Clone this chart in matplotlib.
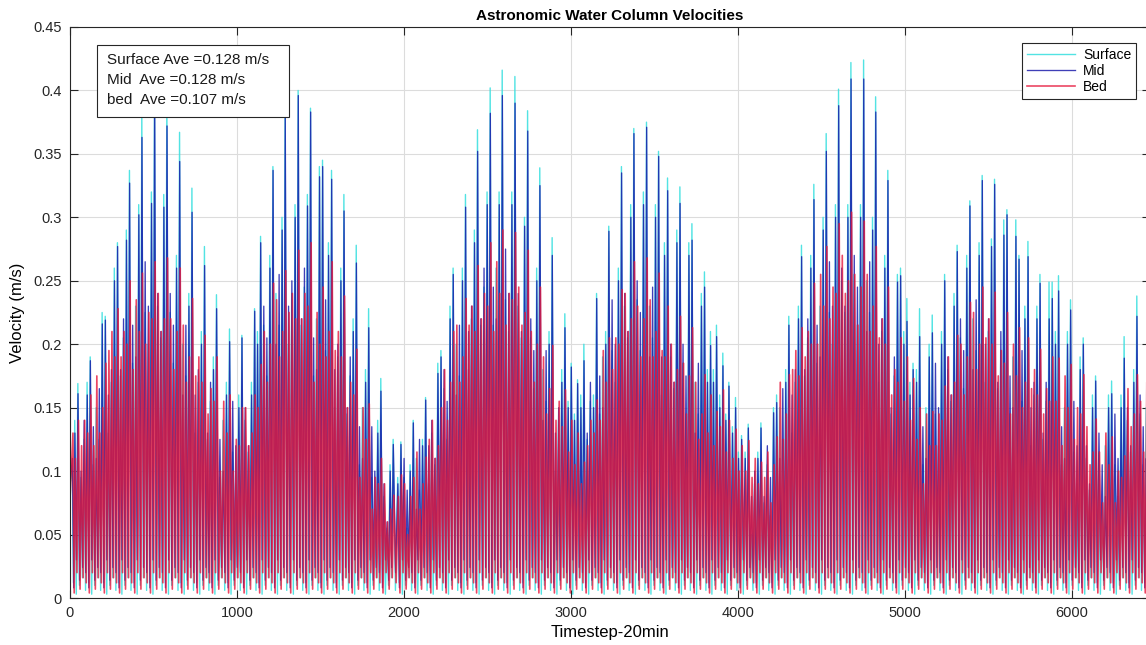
import numpy as np
import matplotlib.pyplot as plt
from matplotlib.patches import Rectangle

plt.rcParams['font.family'] = ['Liberation Sans', 'DejaVu Sans']

# timestep of the tallest spike of each tidal day
spike_t = [48, 122, 212, 285, 357, 431, 507, 581, 657, 731, 806, 878, 956, 1030, 1106, 1142, 1216, 1289,
           1367, 1441, 1513, 1567, 1641, 1715, 1789, 1862, 1936, 1982, 2056, 2130, 2222, 2295, 2369, 2441, 2517, 2589,
           2665, 2741, 2814, 2888, 2964, 3002, 3040, 3078, 3154, 3227, 3303, 3377, 3453, 3525, 3579, 3653, 3725, 3800, 3836, 3872,
           3910, 3946, 3986, 4022, 4062, 4138, 4232, 4305, 4381, 4455, 4529, 4603, 4677, 4753, 4825, 4898, 4974, 5012, 5049, 5088, 5164,
           5238, 5313, 5389, 5463, 5537, 5611, 5683, 5737, 5809, 5882, 5920, 5992, 6068, 6142, 6238, 6313, 6389]

# Surface
surf_peak = [.169, .19, .222, .28, .337, .382, .403, .396, .367, .323, .277, .239, .212, .207, .228, .285, .34, .382,
             .40, .386, .345, .337, .318, .278, .228, .173, .125, .123, .14, .158, .195, .26, .318, .369, .402, .416,
             .411, .384, .339, .284, .224, .185, .172, .2, .24, .293, .34, .37, .375, .352, .331, .324, .295, .257, .21, .215,
             .193, .17, .158, .128, .137, .138, .16, .222, .278, .326, .366, .401, .422, .424, .395, .337, .26, .236, .185, .228, .223,
             .255, .278, .313, .333, .33, .306, .27, .281, .255, .249, .254, .235, .205, .175, .171, .206, .238]
surf_pre = [.14, .17, .225, .26, .29, .31, .32, .318, .27, .24, .21, .19, .17, .16, .17, .21, .27, .3,
            .31, .318, .34, .28, .26, .22, .18, .14, .105, .095, .105, .125, .185, .23, .26, .29, .32, .32,
            .32, .3, .26, .21, .18, .155, .145, .16, .16, .21, .26, .31, .32, .31, .28, .29, .28, .24, .18, .18,
            .16, .145, .135, .115, .115, .115, .15, .18, .23, .27, .3, .31, .31, .31, .3, .27, .255, .21, .17, .18, .2,
            .21, .24, .27, .28, .283, .298, .298, .23, .23, .249, .21, .21, .19, .16, .16, .16, .18]
surf_body = [.10, .12, .14, .17, .20, .22, .24, .23, .22, .19, .17, .15, .13, .13, .14, .17, .21, .23,
             .24, .24, .21, .21, .19, .17, .14, .11, .08, .08, .09, .10, .13, .16, .19, .22, .24, .25,
             .25, .23, .20, .17, .14, .12, .11, .11, .15, .18, .21, .23, .23, .22, .20, .19, .18, .16, .13, .13,
             .12, .11, .10, .09, .09, .09, .10, .14, .17, .20, .22, .24, .25, .25, .24, .21, .17, .15, .13, .13, .14,
             .16, .18, .20, .21, .21, .19, .18, .17, .16, .15, .15, .14, .13, .11, .11, .12, .14]

# Mid
mid_peak = [.161, .187, .219, .277, .327, .363, .398, .372, .344, .304, .262, .228, .202, .205, .226, .28, .337, .379,
            .396, .383, .34, .33, .305, .264, .213, .163, .121, .121, .138, .156, .19, .255, .308, .352, .382, .396,
            .39, .368, .325, .27, .213, .182, .169, .187, .236, .289, .335, .366, .371, .348, .321, .311, .282, .245, .199, .206,
            .183, .167, .15, .125, .134, .134, .154, .215, .269, .314, .352, .388, .409, .409, .383, .329, .254, .218, .18, .206, .209,
            .25, .273, .309, .329, .326, .302, .267, .269, .248, .236, .242, .227, .2, .171, .161, .189, .222]
mid_pre = [.13, .16, .216, .25, .282, .302, .311, .308, .26, .23, .2, .18, .16, .15, .16, .2, .26, .29,
           .3, .309, .332, .27, .25, .21, .17, .13, .1, .09, .1, .12, .177, .22, .25, .28, .31, .31,
           .31, .293, .25, .2, .17, .15, .14, .15, .15, .2, .25, .3, .31, .3, .27, .28, .27, .23, .17, .17,
           .15, .14, .13, .11, .11, .11, .146, .17, .22, .26, .29, .3, .3, .3, .29, .26, .249, .2, .16, .17, .19,
           .2, .23, .26, .27, .277, .286, .285, .22, .22, .22, .2, .2, .18, .15, .15, .15, .17]
mid_body = [.11, .13, .15, .18, .21, .23, .25, .24, .23, .2, .18, .16, .14, .14, .15, .18, .22, .24,
            .25, .25, .22, .22, .2, .18, .15, .12, .09, .09, .1, .11, .14, .17, .2, .23, .25, .26,
            .26, .24, .21, .18, .15, .13, .12, .12, .16, .19, .22, .24, .24, .23, .21, .2, .19, .17, .14, .14,
            .13, .12, .11, .1, .1, .1, .11, .15, .18, .21, .23, .25, .26, .26, .25, .22, .18, .16, .14, .14, .15,
            .17, .19, .21, .22, .22, .2, .19, .18, .17, .16, .16, .15, .14, .12, .12, .13, .15]

# Bed
bed_peak = [.14, .16, .185, .228, .25, .256, .265, .268, .26, .236, .207, .19, .16, .15, .16, .184, .248, .258,
            .274, .28, .245, .265, .238, .196, .153, .11, .081, .097, .095, .111, .15, .21, .236, .262, .28, .29,
            .288, .274, .245, .199, .164, .14, .13, .107, .156, .205, .243, .265, .268, .256, .23, .222, .213, .176, .16, .147,
            .164, .14, .133, .12, .124, .107, .127, .176, .213, .248, .277, .295, .304, .297, .277, .245, .205, .19, .173, .15, .147,
            .167, .207, .233, .245, .241, .225, .213, .205, .196, .19, .189, .184, .176, .141, .127, .112, .176]
bed_body = [.11, .13, .15, .19, .2, .21, .22, .22, .21, .19, .17, .155, .13, .12, .13, .15, .2, .21,
            .22, .23, .2, .21, .19, .16, .125, .09, .07, .08, .08, .09, .12, .17, .19, .21, .23, .24,
            .235, .225, .2, .165, .135, .115, .105, .09, .13, .17, .2, .22, .22, .21, .19, .18, .175, .145, .13, .12,
            .135, .115, .11, .1, .1, .09, .105, .145, .175, .2, .23, .24, .25, .245, .23, .2, .17, .155, .14, .125, .12,
            .14, .17, .19, .2, .2, .185, .175, .17, .16, .155, .155, .15, .145, .115, .105, .095, .145]

# slack-water minima and the spread of the smaller (ebb) peaks
surf_trough = [0.006, 0.012, 0.003, 0.01, 0.016]
mid_trough = [0.02, 0.008, 0.03, 0.014, 0.024]
bed_trough = [0.012, 0.004, 0.02, 0.007, 0.016]
surf_dev = [0.0, -0.025, 0.005, -0.035, 0.01, -0.015, -0.04]
mid_dev = [0.0, -0.03, 0.01, -0.015, -0.04, 0.015, -0.02]
bed_dev = [0.02, -0.01, 0.01, -0.03, 0.025, -0.02, 0.005]

start_vals = {"Surface": 0.09, "Mid": 0.092, "Bed": 0.078}
end_t = 6470
half = 18.63  # half of an M2 cycle in 20 min steps


def build(peak, pre, body, trough, dev, shift, v0):
    pt, pv = [], []
    prev = 0.0
    m = 0
    for i, t in enumerate(spike_t):
        pre_t = t - half
        gap = pre_t - prev
        n = max(int(round(gap / half)) - 1, 0)
        for k in range(1, n + 1):
            pt.append(prev + k * gap / (n + 1))
            pv.append(body[i] + dev[m % len(dev)])
            m += 1
        if pre_t > prev + 6:
            pt.append(pre_t)
            pv.append(pre[i])
        pt.append(t)
        pv.append(peak[i])
        prev = t
    t = prev + half
    while t < end_t:
        pt.append(t)
        pv.append(body[-1] + dev[m % len(dev)])
        m += 1
        t += half
    xs, ys = [0.0], [v0]
    for j in range(len(pt)):
        if j > 0:
            xs.append(0.5 * (pt[j - 1] + pt[j]) + shift)
            ys.append(trough[j % len(trough)])
        xs.append(pt[j] + shift)
        ys.append(pv[j])
    return np.array(xs), np.array(ys)


fig = plt.figure(figsize=(11.46, 6.45), dpi=100)
ax = fig.add_axes([70 / 1146, 47 / 645, 1080 / 1146, 571 / 645])

xs, ys = build(surf_peak, surf_pre, surf_body, surf_trough, surf_dev, -1, start_vals["Surface"])
ax.plot(xs, ys, color='#3fe0e0', lw=1.0, alpha=0.9, label='Surface')
xs, ys = build(mid_peak, mid_pre, mid_body, mid_trough, mid_dev, 0, start_vals["Mid"])
ax.plot(xs, ys, color='#1414a8', lw=0.95, alpha=0.82, label='Mid')
xs, ys = build(bed_peak, bed_body, bed_body, bed_trough, bed_dev, 3, start_vals["Bed"])
ax.plot(xs, ys, color='#e6183c', lw=1.2, alpha=0.8, label='Bed')

ax.set_xlim(0, 6467)
ax.set_ylim(0, 0.45)
ax.set_xticks(np.arange(0, 6001, 1000))
ax.set_yticks(np.arange(0, 0.451, 0.05))
ax.set_yticklabels(['0', '0.05', '0.1', '0.15', '0.2', '0.25', '0.3', '0.35', '0.4', '0.45'])
ax.tick_params(direction='in', length=6, width=0.8, labelsize=10.5, colors='#262626',
               top=True, right=True, pad=6)
ax.grid(True, color='#dcdcdc', lw=0.8)
ax.set_axisbelow(True)
for s in ax.spines.values():
    s.set_color('#262626')
    s.set_linewidth(0.8)

ax.set_title('Astronomic Water Column Velocities', fontsize=11, fontweight='bold', pad=5)
ax.set_xlabel('Timestep-20min', fontsize=12, labelpad=3)
ax.set_ylabel('Velocity (m/s)', fontsize=12, labelpad=6)

leg = ax.legend(loc='upper right', bbox_to_anchor=(1066 / 1080, 555 / 571), fontsize=10,
                fancybox=False, framealpha=1, edgecolor='#262626', borderaxespad=0,
                handlelength=3.4, labelspacing=0.15, borderpad=0.35, handletextpad=0.6)
leg.get_frame().set_linewidth(0.8)

ax.add_patch(Rectangle((27 / 1080, 481 / 571), 192 / 1080, 72 / 571, transform=ax.transAxes,
                       facecolor='white', edgecolor='#262626', lw=0.8, zorder=5))
box_lines = ['Surface Ave =0.128 m/s', 'Mid  Ave =0.128 m/s', 'bed  Ave =0.107 m/s']
for k, line in enumerate(box_lines):
    ax.text(37 / 1080, (538 - 20 * k) / 571, line, transform=ax.transAxes, fontsize=11,
            va='center', ha='left', color='#1a1a1a', zorder=6)

fig.savefig('out.png', dpi=100)
